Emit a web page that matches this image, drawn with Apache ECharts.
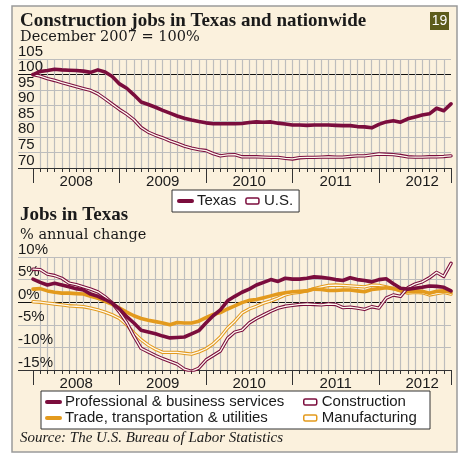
<!DOCTYPE html>
<html>
<head>
<meta charset="utf-8">
<style>
  html, body { margin: 0; padding: 0; background: #fff; }
  #chart { width: 461px; height: 454px; }
</style>
<script src="https://cdn.jsdelivr.net/npm/echarts@6/dist/echarts.min.js"></script>
</head>
<body>
<div id="chart"></div>
<script>
// months since Dec 2007 (0 = Dec 2007 ... 58 = Oct 2012)
var yearLabels = ["2008", "2009", "2010", "2011", "2012"];

// Construction jobs, Dec 2007 = 100
var texasIndex = [
  100, 101, 101.3, 101.7, 101.5, 101.4, 101.3, 101.1, 100.7, 101.5,
  100.8, 99.4, 97, 95.6, 93.5, 91.2, 90.4, 89.5, 88.5, 87.6,
  86.7, 86, 85.4, 84.9, 84.5, 84.2, 84.2, 84.2, 84.2, 84.3,
  84.6, 84.8, 84.7, 84.8, 84.4, 84.1, 83.8, 83.8, 83.7, 83.8,
  83.8, 83.8, 83.7, 83.6, 83.6, 83.3, 83.2, 82.9, 84, 84.8,
  85.2, 84.7, 85.8, 86.4, 87, 87.4, 89.2, 88.4, 90.6
];
var usIndex = [
  100, 99.5, 98.7, 98.1, 97.4, 96.8, 96.1, 95.5, 94.9, 93.8,
  92.2, 90.5, 88.8, 87.3, 85.5, 83, 81.5, 80.5, 79.7, 78.7,
  77.9, 77, 76.4, 75.9, 75.6, 74.6, 73.9, 74.2, 74.3, 73.6,
  73.6, 73.6, 73.5, 73.4, 73.4, 73.1, 72.9, 73.3, 73.4, 73.4,
  73.5, 73.6, 73.5, 73.5, 73.7, 73.9, 73.9, 74.2, 74.5, 74.4,
  74.3, 74, 73.6, 73.5, 73.5, 73.6, 73.6, 73.7, 73.9
];

// Jobs in Texas, % annual change
var profBusiness = [
  5.1, 4.4, 3.8, 4.2, 3.8, 3.4, 3, 2.7, 1.8, 1.3,
  0.6, -0.2, -1.5, -3.2, -4.6, -6.2, -6.6, -7, -7.5, -7.9,
  -7.8, -7.7, -7, -6.3, -4.6, -3, -1.7, 0.3, 1.3, 2.2,
  2.9, 3.8, 4.4, 5, 4.6, 5.3, 5.1, 5.1, 5.3, 5.6,
  5.5, 5.3, 5, 4.8, 5.4, 5, 4.8, 4.5, 5, 5.2,
  4.1, 3.1, 2.9, 3.1, 3.3, 3.6, 3.5, 3.3, 2.5
];
var construction = [
  7.3, 7.2, 6.2, 5.9, 5.3, 4.2, 3.9, 3.4, 2.9, 2.3,
  1.2, -0.2, -2.2, -4.5, -7.5, -10.2, -11, -11.8, -12.5, -13.1,
  -13.7, -14.8, -15.3, -14.6, -12.8, -11.8, -10.8, -8, -6.6, -6.2,
  -4.6, -3.6, -2.8, -2, -1.3, -0.9, -0.7, -0.5, -0.4, -0.5,
  -0.6, -0.4, -0.5, -1.2, -1.1, -1.3, -1.6, -1, -1.3, 0.9,
  1.6, 1.3, 3.2, 4, 4.5, 5.4, 6.6, 5.7, 8.6
];
var tradeTransport = [
  2.9, 3, 2.5, 2.2, 2, 2, 1.9, 1.8, 1.3, 0.9,
  0.2, -0.5, -1.3, -2.2, -3, -3.6, -4, -4.3, -4.6, -5,
  -4.5, -4.6, -4.6, -4.2, -3.4, -2.7, -2.3, -1.5, -0.8, -0.1,
  0.4, 0.6, 1, 1.4, 1.8, 2.1, 2.3, 2.4, 2.5, 2.9,
  2.8, 2.6, 2.6, 2.7, 2.7, 2.5, 2.3, 2.8, 3, 3.2,
  3, 2.5, 2.3, 2.5, 2.4, 2, 2.4, 2.5, 2.2
];
var manufacturing = [
  0.1, 0, -0.2, -0.4, -0.6, -0.8, -0.9, -1, -1.3, -1.7,
  -2.2, -2.8, -3.6, -5, -6.8, -8.3, -9.5, -10.4, -11.1, -11.1,
  -11.1, -11.3, -11.5, -11, -10.3, -9.2, -7.7, -5.7, -4.2, -2.4,
  -1.5, -0.9, -0.2, 0.3, 0.9, 1.6, 2, 2.2, 2.5, 3,
  3.4, 3.7, 3.8, 3.7, 3.6, 3.5, 3.4, 3.8, 3.7, 3.4,
  3, 2.6, 2, 2.2, 2.1, 1.6, 1.9, 2.2, 1.8
];

var maroon = "#7b0d3d";
var orange = "#e39a1d";
var cream = "#fbf1dd";
var inner = "#fffaf0";
var gridGray = "#bdbdbd";
var sans = '"Liberation Sans", Arial, sans-serif';

var lastMonth = texasIndex.length - 1;
var monthTicks = [];
for (var m = 0; m <= lastMonth; m++) monthTicks.push(m);
var yearTicks = [0, 12, 24, 36, 48, lastMonth];
var yearMid = yearLabels.map(function (y, i) { return 6 + i * 12; });

function toPairs(arr) {
  return arr.map(function (v, i) { return [i, v]; });
}

function timeAxes(g) {
  return [{
    type: "value", gridIndex: g, min: 0, max: lastMonth, interval: 12, position: "bottom",
    axisLine: { onZero: false, lineStyle: { color: "#333", width: 1 } },
    axisTick: { customValues: monthTicks, length: 4, lineStyle: { color: "#333" } },
    splitLine: { show: true, showMinLine: false, showMaxLine: false, lineStyle: { color: gridGray, width: 1.2 } },
    axisLabel: {
      customValues: yearMid, margin: 6, fontSize: 15, color: "#1a1a1a", fontFamily: sans,
      formatter: function (v) { return yearLabels[Math.round((v - 6) / 12)]; }
    }
  }, {
    type: "value", gridIndex: g, min: 0, max: lastMonth, position: "bottom",
    axisLine: { show: false, onZero: false },
    axisTick: { customValues: yearTicks, length: 15, lineStyle: { color: "#333" } },
    axisLabel: { show: false },
    splitLine: { show: false }
  }];
}

function labelAxis(g, min, max, colors, fmt) {
  return {
    type: "value", gridIndex: g, min: min, max: max, interval: 5,
    axisLine: { show: false }, axisTick: { show: false },
    splitLine: { show: true, lineStyle: { color: colors, width: 1.2 } },
    axisLabel: {
      inside: true, margin: 0, align: "left", verticalAlign: "bottom",
      fontSize: 15, color: "#1a1a1a", fontFamily: sans, formatter: fmt
    }
  };
}

function lineSeries(name, data, x, y, color, width, z) {
  return {
    name: name, type: "line", xAxisIndex: x, yAxisIndex: y, data: toPairs(data),
    showSymbol: false, symbol: "none", silent: true, z: z,
    lineStyle: { color: color, width: width, join: "round", cap: "round" },
    itemStyle: { color: color }
  };
}

function doubleLine(name, data, x, y, color, z) {
  return [
    lineSeries(name, data, x, y, color, 3.4, z),
    lineSeries(name + " inner", data, x, y, inner, 1.3, z + 0.1)
  ];
}

// legend entries
function barItem(name) {
  return { name: name, lineStyle: { width: 4 }, itemStyle: { opacity: 0 } };
}
function hollowItem(name, color) {
  return { name: name, icon: "roundRect", itemStyle: { color: "#fff", borderColor: color, borderWidth: 1.5 } };
}

var chart = echarts.init(document.getElementById("chart"));

var series = [
  lineSeries("Texas", texasIndex, 1, 1, maroon, 3.6, 5)
].concat(
  doubleLine("U.S.", usIndex, 1, 1, maroon, 4),
  doubleLine("Manufacturing", manufacturing, 4, 3, orange, 2),
  [lineSeries("Trade, transportation & utilities", tradeTransport, 4, 3, orange, 3.6, 3)],
  doubleLine("Construction", construction, 4, 3, maroon, 4),
  [lineSeries("Professional & business services", profBusiness, 4, 3, maroon, 3.6, 5)]
);

var legendText = { fontSize: 15, color: "#1a1a1a", fontFamily: sans, lineHeight: 16 };

chart.setOption({
  backgroundColor: "#fff",
  animation: false,
  grid: [
    { left: 18, right: 10, top: 59, height: 109 },
    { left: 33, right: 10, top: 59, height: 109 },
    { left: 18, right: 10, top: 257, height: 113 },
    { left: 33, right: 10, top: 257, height: 113 }
  ],
  xAxis: [
    { type: "value", gridIndex: 0, min: 0, max: 1, show: false }
  ].concat(timeAxes(1), [
    { type: "value", gridIndex: 2, min: 0, max: 1, show: false }
  ], timeAxes(3)),
  yAxis: [
    labelAxis(0, 70, 105, ["#333", gridGray, gridGray, gridGray, gridGray, gridGray, "#111", gridGray],
      function (v) { return String(v); }),
    { type: "value", gridIndex: 1, min: 70, max: 105, show: false },
    labelAxis(2, -15, 10, ["#333", gridGray, gridGray, "#111", gridGray, gridGray],
      function (v) { return v + "%"; }),
    { type: "value", gridIndex: 3, min: -15, max: 10, show: false }
  ],
  legend: [{
    left: 172, top: 190, padding: [3, 6, 3, 5], itemGap: 9, itemWidth: 13, itemHeight: 6,
    backgroundColor: "#fff", borderColor: "#333", borderWidth: 1, borderRadius: 0,
    textStyle: legendText, selectedMode: false,
    data: [barItem("Texas"), hollowItem("U.S.", maroon)]
  }, {
    left: 45, top: 394, orient: "vertical", padding: 0, itemGap: 0, itemWidth: 13, itemHeight: 6,
    textStyle: legendText, selectedMode: false,
    data: [barItem("Professional & business services"), barItem("Trade, transportation & utilities")]
  }, {
    left: 303, top: 394, orient: "vertical", padding: 0, itemGap: 0, itemWidth: 13, itemHeight: 6,
    textStyle: legendText, selectedMode: false,
    data: [hollowItem("Construction", maroon), hollowItem("Manufacturing", orange)]
  }],
  graphic: [
    { type: "rect", z: -10, shape: { x: 12, y: 6, width: 445, height: 446 },
      style: { fill: cream, stroke: "#9a9a9a", lineWidth: 1.5 } },
    { type: "rect", z: 3, shape: { x: 41, y: 391, width: 389, height: 38 },
      style: { fill: "#fff", stroke: "#333", lineWidth: 1 } },
    { type: "rect", z: 3, shape: { x: 430, y: 12, width: 19, height: 18 },
      style: { fill: "#5d5c1c" } },
    { type: "text", z: 4, style: { x: 439.5, y: 21.5, text: "19", fill: "#fff",
      font: '14px "Liberation Sans"', align: "center", verticalAlign: "middle" } },
    { type: "text", z: 4, style: { x: 20, y: 21, text: "Construction jobs in Texas and nationwide",
      fill: "#1a1a1a", font: 'bold 19px "Liberation Serif"', verticalAlign: "middle" } },
    { type: "text", z: 4, style: { x: 20, y: 37.5, text: "December 2007 = 100%",
      fill: "#1a1a1a", font: '14.5px "DejaVu Serif"', verticalAlign: "middle" } },
    { type: "text", z: 4, style: { x: 20, y: 215.5, text: "Jobs in Texas",
      fill: "#1a1a1a", font: 'bold 19px "Liberation Serif"', verticalAlign: "middle" } },
    { type: "text", z: 4, style: { x: 20, y: 235.5, text: "% annual change",
      fill: "#1a1a1a", font: '14.5px "DejaVu Serif"', verticalAlign: "middle" } },
    { type: "text", z: 4, style: { x: 20, y: 438, text: "Source: The U.S. Bureau of Labor Statistics",
      fill: "#1a1a1a", font: 'italic 15px "Liberation Serif"', verticalAlign: "middle" } }
  ],
  series: series
});
</script>
</body>
</html>
